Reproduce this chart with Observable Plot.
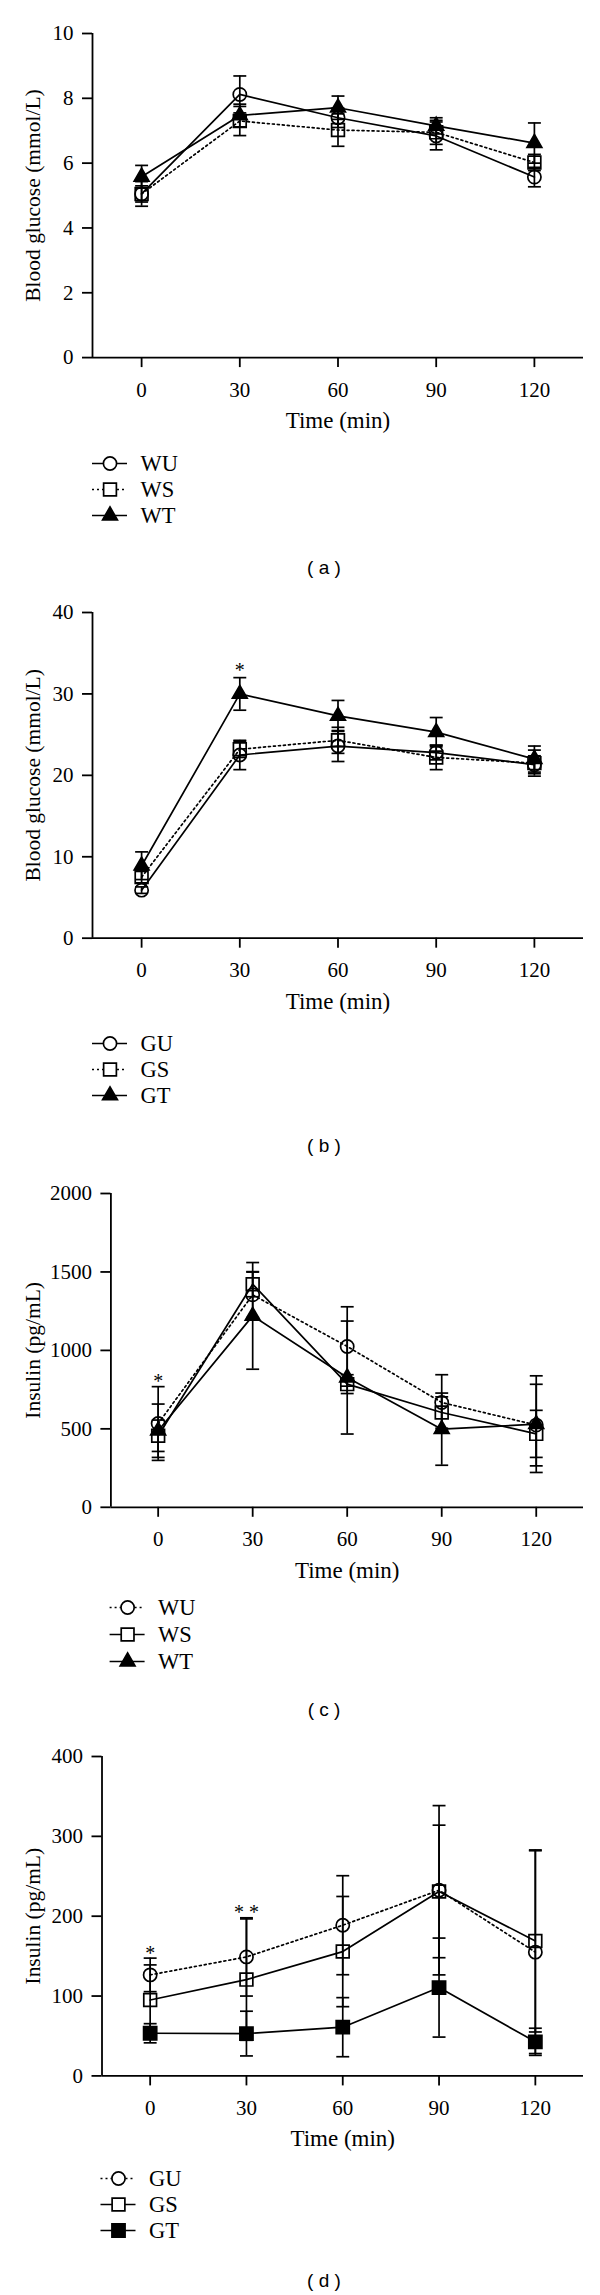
<!DOCTYPE html>
<html><head><meta charset="utf-8">
<script src="https://cdn.jsdelivr.net/npm/d3@7"></script>
<script src="https://cdn.jsdelivr.net/npm/@observablehq/plot@0.6"></script>
<style>
html,body{margin:0;padding:0;background:#fff;}
#page{position:relative;width:600px;height:2295px;overflow:hidden;background:#fff;}
.abs{position:absolute;left:0;}
.abs svg{font-family:"Liberation Serif","Times New Roman",serif !important;}
.abs svg text{font-family:"Liberation Serif","Times New Roman",serif !important;fill:#000;}
.cap{position:absolute;font-family:"Liberation Sans",Arial,sans-serif;font-size:19px;color:#000;transform:translate(-50%,-50%);white-space:pre;line-height:1;}
</style></head><body><div id="page"></div>
<script>
// ---------- data ----------
const times = [0, 30, 60, 90, 120];
const xTicks = [0, 30, 60, 90, 120];
const xDomain = [-15, 135];

// (a) blood glucose, W groups
const aNames = ["WU", "WS", "WT"];
const aWU = [5.05, 8.12, 7.40, 6.84, 5.57];
const aWUsem = [0.38, 0.57, 0.30, 0.43, 0.30];
const aWS = [5.05, 7.30, 7.02, 6.95, 6.02];
const aWSsem = [0.25, 0.45, 0.50, 0.37, 0.25];
const aWT = [5.58, 7.47, 7.71, 7.15, 6.62];
const aWTsem = [0.35, 0.35, 0.36, 0.25, 0.62];
const aYTicks = [0, 2, 4, 6, 8, 10];
const aStars = [];

// (b) blood glucose, G groups
const bNames = ["GU", "GS", "GT"];
const bGU = [5.9, 22.5, 23.6, 22.8, 21.3];
const bGUsem = [0.4, 1.8, 1.9, 0.9, 1.1];
const bGS = [7.5, 23.2, 24.3, 22.2, 21.5];
const bGSsem = [0.7, 1.0, 1.6, 1.5, 1.6];
const bGT = [8.9, 30.0, 27.3, 25.3, 22.0];
const bGTsem = [1.7, 2.0, 1.9, 1.8, 1.6];
const bYTicks = [0, 10, 20, 30, 40];
const bStars = [{t: 30, v: 33.4, label: "*"}];

// (c) insulin, W groups
const cNames = ["WU", "WS", "WT"];
const cWU = [534, 1354, 1025, 668, 524];
const cWUsem = [235, 145, 253, 177, 260];
const cWS = [456, 1422, 785, 604, 468];
const cWSsem = [100, 80, 60, 100, 150];
const cWT = [488, 1220, 827, 498, 530];
const cWTsem = [170, 340, 360, 230, 308];
const cYTicks = [0, 500, 1000, 1500, 2000];
const cStars = [{t: 0, v: 827, label: "*"}];

// (d) insulin, G groups
const dNames = ["GU", "GS", "GT"];
const dGU = [126.5, 149, 188.7, 232.5, 155];
const dGUsem = [21, 49, 62, 106, 127];
const dGS = [95, 120.6, 155.7, 231, 169];
const dGSsem = [44, 76, 69, 83, 114];
const dGT = [53.4, 53, 61, 110.6, 42.7];
const dGTsem = [12, 28, 37, 62, 17];
const dYTicks = [0, 100, 200, 300, 400];
const dStars = [{t: 0, v: 158.7, label: "*"}, {t: 30, v: 210, label: "* *"}];

// ---------- styles ----------
const FONT = "Liberation Serif, Times New Roman, serif";
const SOLID = null, DOTTED = "2,3";
const LW = 1.7, AW = 1.8;
const OPEN_CIRCLE = {symbol: "circle", r: 6.6, fill: "none"};
const OPEN_SQUARE = {symbol: "square", r: 7.2, fill: "none"};
const FILL_TRI = {symbol: "triangle", r: 5.5, fill: "black"};
const FILL_SQUARE = {symbol: "square", r: 7.4, fill: "black"};
const capSymbol = {draw(ctx, size) { const w = Math.sqrt(size) / 2; ctx.moveTo(-w, 0); ctx.lineTo(w, 0); }};

const panels = [
  {label: "( a )", ylabel: "Blood glucose (mmol/L)", yDomain: [0, 10], yTicks: aYTicks, stars: aStars,
   series: [
     {name: aNames[0], mean: aWU, sem: aWUsem, dash: SOLID, mk: OPEN_CIRCLE},
     {name: aNames[1], mean: aWS, sem: aWSsem, dash: DOTTED, mk: OPEN_SQUARE},
     {name: aNames[2], mean: aWT, sem: aWTsem, dash: SOLID, mk: FILL_TRI}],
   yTop: 32.5, yZero: 356.6, axisX: 92, legY: 462.5, legSp: 26, legX: 92, capY: 567},
  {label: "( b )", ylabel: "Blood glucose (mmol/L)", yDomain: [0, 40], yTicks: bYTicks, stars: bStars,
   series: [
     {name: bNames[0], mean: bGU, sem: bGUsem, dash: SOLID, mk: OPEN_CIRCLE},
     {name: bNames[1], mean: bGS, sem: bGSsem, dash: DOTTED, mk: OPEN_SQUARE},
     {name: bNames[2], mean: bGT, sem: bGTsem, dash: SOLID, mk: FILL_TRI}],
   yTop: 611.8, yZero: 937.5, axisX: 92, legY: 1043, legSp: 26.4, legX: 92, capY: 1145},
  {label: "( c )", ylabel: "Insulin (pg/mL)", yDomain: [0, 2000], yTicks: cYTicks, stars: cStars,
   series: [
     {name: cNames[0], mean: cWU, sem: cWUsem, dash: DOTTED, mk: OPEN_CIRCLE},
     {name: cNames[1], mean: cWS, sem: cWSsem, dash: SOLID, mk: OPEN_SQUARE},
     {name: cNames[2], mean: cWT, sem: cWTsem, dash: SOLID, mk: FILL_TRI}],
   yTop: 1192.7, yZero: 1506.5, axisX: 110.4, legY: 1607, legSp: 27, legX: 109.6, capY: 1709},
  {label: "( d )", ylabel: "Insulin (pg/mL)", yDomain: [0, 400], yTicks: dYTicks, stars: dStars,
   series: [
     {name: dNames[0], mean: dGU, sem: dGUsem, dash: DOTTED, mk: OPEN_CIRCLE},
     {name: dNames[1], mean: dGS, sem: dGSsem, dash: SOLID, mk: OPEN_SQUARE},
     {name: dNames[2], mean: dGT, sem: dGTsem, dash: SOLID, mk: FILL_SQUARE}],
   yTop: 1755.6, yZero: 2075, axisX: 101.5, legY: 2178.3, legSp: 26, legX: 100.5, capY: 2280}
];

const page = document.getElementById("page");

function place(node, top) {
  const div = document.createElement("div");
  div.className = "abs";
  div.style.top = top + "px";
  div.appendChild(node);
  page.appendChild(div);
}

function mainPlot(p) {
  const mt = 20, mb = 95, mr = 17;
  const H = mt + (p.yZero - p.yTop) + mb;
  const marks = [];
  const sets = p.series.map(s => ({s, rows: times.map((t, i) => ({t, v: s.mean[i], e: s.sem[i]}))}));
  for (const {s, rows} of sets) {
    marks.push(Plot.line(rows, {x: "t", y: "v", stroke: "black", strokeWidth: LW, strokeDasharray: s.dash || undefined}));
  }
  for (const {rows} of sets) {
    marks.push(Plot.ruleX(rows, {x: "t", y1: d => d.v - d.e, y2: d => d.v + d.e, stroke: "black", strokeWidth: LW}));
    marks.push(Plot.dot(rows, {x: "t", y: d => d.v + d.e, symbol: capSymbol, r: 7.3, stroke: "black", strokeWidth: LW, fill: "none"}));
    marks.push(Plot.dot(rows, {x: "t", y: d => d.v - d.e, symbol: capSymbol, r: 7.3, stroke: "black", strokeWidth: LW, fill: "none"}));
  }
  for (const {s, rows} of sets) {
    marks.push(Plot.dot(rows, {x: "t", y: "v", symbol: s.mk.symbol, r: s.mk.r, fill: s.mk.fill, stroke: "black", strokeWidth: LW}));
  }
  marks.push(Plot.text(p.stars, {x: "t", y: "v", text: "label", fill: "black", fontFamily: FONT, fontSize: 20, lineAnchor: "middle", dy: 4}));
  marks.push(Plot.ruleX([xDomain[0]], {stroke: "black", strokeWidth: AW}));
  marks.push(Plot.ruleY([0], {stroke: "black", strokeWidth: AW}));
  marks.push(Plot.axisY({ticks: p.yTicks, tickSize: 10, tickPadding: 9, stroke: "black", strokeWidth: AW, fill: "black", fontFamily: FONT, fontSize: 21, tickFormat: d => String(d), label: null}));
  marks.push(Plot.axisX({ticks: xTicks, tickSize: 10, tickPadding: 14, stroke: "black", strokeWidth: AW, fill: "black", fontFamily: FONT, fontSize: 21, tickFormat: d => String(d), label: null}));
  marks.push(Plot.text(["Time (min)"], {frameAnchor: "bottom", dy: 63, lineAnchor: "middle", fill: "black", fontFamily: FONT, fontSize: 23}));
  marks.push(Plot.text([p.ylabel], {frameAnchor: "left", dx: -(p.axisX - 32.7), rotate: -90, lineAnchor: "middle", textAnchor: "middle", fill: "black", fontFamily: FONT, fontSize: 21.5}));
  const svg = Plot.plot({
    width: 600, height: H,
    marginTop: mt, marginBottom: mb, marginLeft: p.axisX, marginRight: mr,
    x: {domain: xDomain, label: null},
    y: {domain: p.yDomain, label: null},
    style: {fontFamily: FONT, fontSize: "21px", background: "transparent", color: "black", overflow: "visible"},
    marks
  });
  place(svg, p.yTop - mt);
}

function legendPlot(p) {
  const pad = 16, sp = p.legSp;
  const names = p.series.map(s => s.name);
  const marks = [];
  for (const s of p.series) {
    marks.push(Plot.ruleY([s.name], {y: d => d, x1: () => 0, x2: () => 1, stroke: "black", strokeWidth: LW, strokeDasharray: s.dash || undefined}));
    marks.push(Plot.dot([s.name], {x: () => 0.5, y: d => d, symbol: s.mk.symbol, r: s.mk.r, fill: s.mk.fill === "none" ? "white" : s.mk.fill, stroke: "black", strokeWidth: LW}));
  }
  marks.push(Plot.text(names, {x: () => 1, y: d => d, text: d => d, textAnchor: "start", dx: 13, lineAnchor: "middle", fill: "black", fontFamily: FONT, fontSize: 22.5}));
  const svg = Plot.plot({
    width: 600, height: 2 * sp + 2 * pad, margin: 0,
    x: {domain: [0, 1], range: [p.legX, p.legX + 35], axis: null},
    y: {type: "point", domain: names, range: [pad, pad + 2 * sp], padding: 0, axis: null},
    style: {fontFamily: FONT, fontSize: "22px", background: "transparent", color: "black", overflow: "visible"},
    marks
  });
  place(svg, p.legY - pad);
}

function caption(p) {
  const d = document.createElement("div");
  d.className = "cap";
  d.style.left = "324px";
  d.style.top = p.capY + "px";
  d.textContent = p.label;
  page.appendChild(d);
}

for (const p of panels) { mainPlot(p); legendPlot(p); caption(p); }
</script>
</body></html>
